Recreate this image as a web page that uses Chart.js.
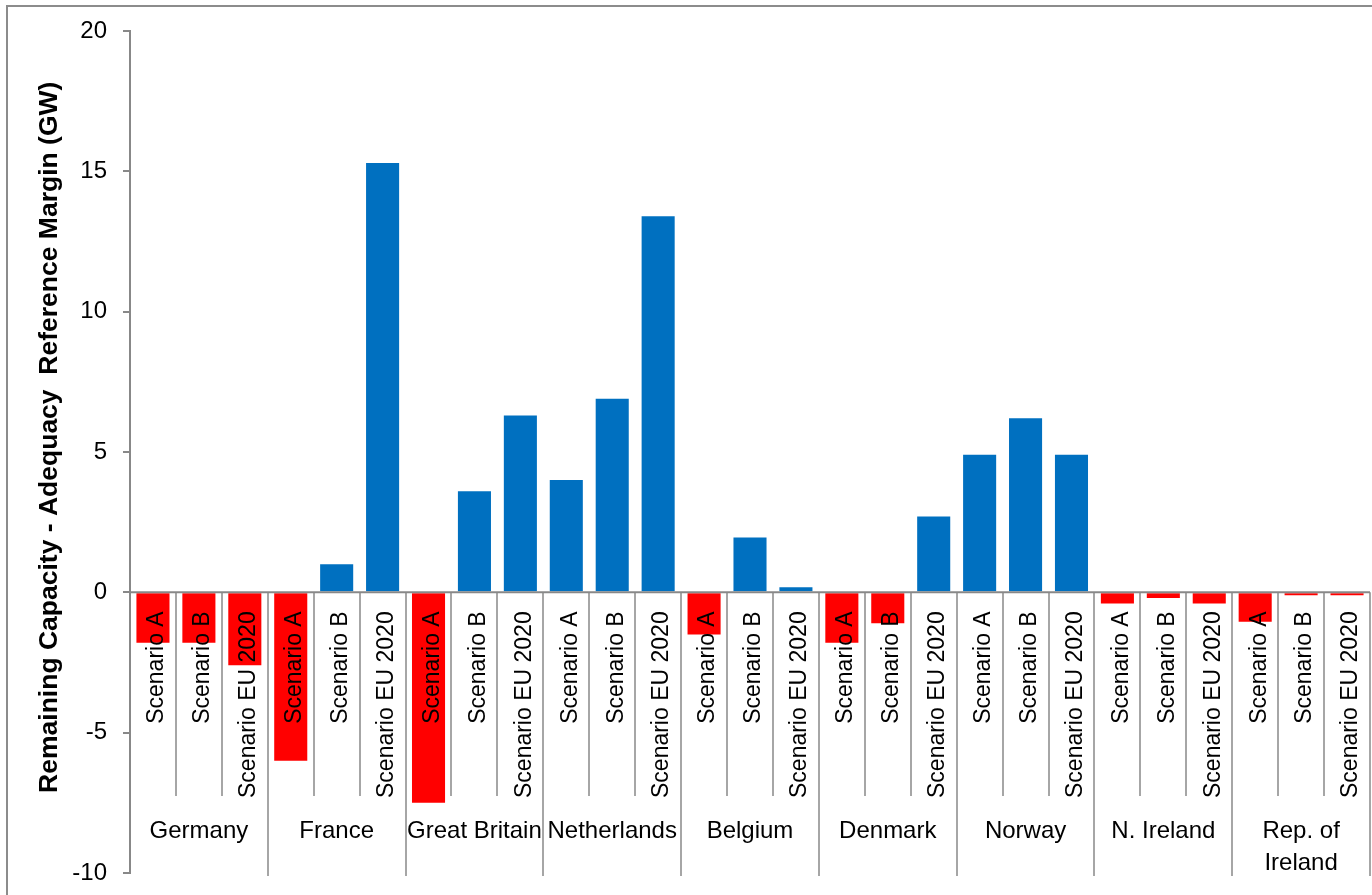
<!DOCTYPE html>
<html lang="en">
<head>
    <meta charset="UTF-8">
    <title>Remaining Capacity - Adequacy Reference Margin</title>
    <script src="https://cdn.jsdelivr.net/npm/chart.js"></script>
    <style>
        html, body { margin: 0; padding: 0; background: #fff; }
        #wrap { position: relative; width: 1372px; height: 895px; }
    </style>
</head>
<body>
    <div id="wrap">
        <canvas id="marginChart"></canvas>
    </div>

    <script type="text/javascript">
        // data (GW)
        var countries = ['Germany', 'France', 'Great Britain', 'Netherlands', 'Belgium', 'Denmark', 'Norway', 'N. Ireland', ['Rep. of', 'Ireland']];
        var scenarios = ['Scenario A', 'Scenario B', 'Scenario EU 2020'];
        var scenarioA  = [-1.8, -6.0, -7.5, 4.0, -1.5, -1.8, 4.9, -0.4, -1.05];
        var scenarioB  = [-1.8, 1.0, 3.6, 6.9, 1.95, -1.1, 6.2, -0.2, -0.1];
        var scenarioEU = [-2.6, 15.3, 6.3, 13.4, 0.18, 2.7, 4.9, -0.4, -0.1];
        var yTicks = [-10, -5, 0, 5, 10, 15, 20];

        // flatten into one bar per (country, scenario)
        var labels = [];
        var values = [];
        countries.forEach(function(c, i) {
            [scenarioA, scenarioB, scenarioEU].forEach(function(series, j) {
                labels.push(scenarios[j]);
                values.push(series[i]);
            });
        });

        var scenarioFont = '23px "Liberation Sans", Arial, sans-serif';
        var countryFont = '24px "Liberation Sans", Arial, sans-serif';

        // draws the category axis at zero: axis line, separators, rotated scenario labels, country labels
        var categoryAxis = {
            id: 'categoryAxis',
            afterDatasetsDraw: function(chart) {
                var ctx = chart.ctx;
                var area = chart.chartArea;
                var xs = chart.scales.x;
                var ys = chart.scales.y;
                var y0 = ys.getPixelForValue(0);
                var step = xs.getPixelForValue(1) - xs.getPixelForValue(0);

                ctx.save();
                // separators
                for (var i = 1; i <= labels.length; i++) {
                    var xb = xs.getPixelForValue(i) - step / 2;
                    var grp = (i % 3 === 0);
                    ctx.beginPath();
                    ctx.strokeStyle = '#a6a6a6';
                    ctx.lineWidth = 2;
                    ctx.moveTo(Math.round(xb) , y0);
                    ctx.lineTo(Math.round(xb), grp ? area.bottom + 3 : 796);
                    ctx.stroke();
                }
                // axis line at zero
                ctx.beginPath();
                ctx.strokeStyle = '#888888';
                ctx.lineWidth = 2;
                ctx.moveTo(area.left, y0);
                ctx.lineTo(area.right, y0);
                ctx.stroke();

                // scenario labels, reading bottom to top
                ctx.fillStyle = '#000';
                ctx.font = scenarioFont;
                labels.forEach(function(lab, i) {
                    var xc = xs.getPixelForValue(i);
                    ctx.save();
                    ctx.translate(xc + 4, y0 + 19);
                    ctx.rotate(-Math.PI / 2);
                    ctx.textAlign = 'right';
                    ctx.textBaseline = 'middle';
                    ctx.fillText(lab, 0, 0);
                    ctx.restore();
                });

                // country labels
                ctx.font = countryFont;
                ctx.textAlign = 'center';
                ctx.textBaseline = 'middle';
                countries.forEach(function(c, i) {
                    var xc = xs.getPixelForValue(i * 3 + 1);
                    var lines = Array.isArray(c) ? c : [c];
                    lines.forEach(function(line, k) {
                        ctx.fillText(line, xc, 831 + k * 32);
                    });
                });

                // outer frame
                ctx.beginPath();
                ctx.strokeStyle = '#8c8c8c';
                ctx.lineWidth = 2;
                ctx.moveTo(7, chart.height + 2);
                ctx.lineTo(7, 6);
                ctx.lineTo(chart.width + 2, 6);
                ctx.stroke();
                ctx.restore();
            }
        };

        var ctx = document.getElementById('marginChart').getContext('2d');
        var marginChart = new Chart(ctx, {
            type: 'bar',
            data: {
                labels: labels,
                datasets: [{
                    label: 'Remaining capacity',
                    data: values,
                    backgroundColor: function(c) {
                        return c.raw < 0 ? '#ff0000' : '#0070c0';
                    },
                    barPercentage: 0.72,
                    categoryPercentage: 1.0
                }]
            },
            options: {
                responsive: true,
                maintainAspectRatio: false,
                animation: false,
                layout: {
                    padding: { left: 0, top: 31, right: 2, bottom: 22 }
                },
                plugins: {
                    legend: { display: false },
                    tooltip: { enabled: false }
                },
                scales: {
                    x: {
                        display: false
                    },
                    y: {
                        min: -10,
                        max: 20,
                        afterBuildTicks: function(scale) {
                            scale.ticks = yTicks.map(function(v) { return { value: v }; });
                        },
                        afterFit: function(scale) {
                            // fixed axis width; tick labels may overhang the plot edges
                            scale.width = 130;
                            scale.paddingTop = 0;
                            scale.paddingBottom = 0;
                        },
                        grid: {
                            drawOnChartArea: false,
                            drawTicks: true,
                            tickLength: 7,
                            color: '#888888',
                            lineWidth: 2
                        },
                        border: {
                            display: true,
                            color: '#888888',
                            width: 2
                        },
                        ticks: {
                            color: '#000',
                            padding: 16,
                            font: { family: '"Liberation Sans", Arial, sans-serif', size: 24 }
                        },
                        title: {
                            display: true,
                            // leading spaces nudge the centred title up a little, as in the original
                            text: '    Remaining Capacity - Adequacy  Reference Margin (GW)',
                            color: '#000',
                            font: { family: '"Liberation Sans", Arial, sans-serif', size: 26.5, weight: 'bold' },
                            padding: { top: 34, bottom: 0 }
                        }
                    }
                }
            },
            plugins: [categoryAxis]
        });
    </script>
</body>
</html>
